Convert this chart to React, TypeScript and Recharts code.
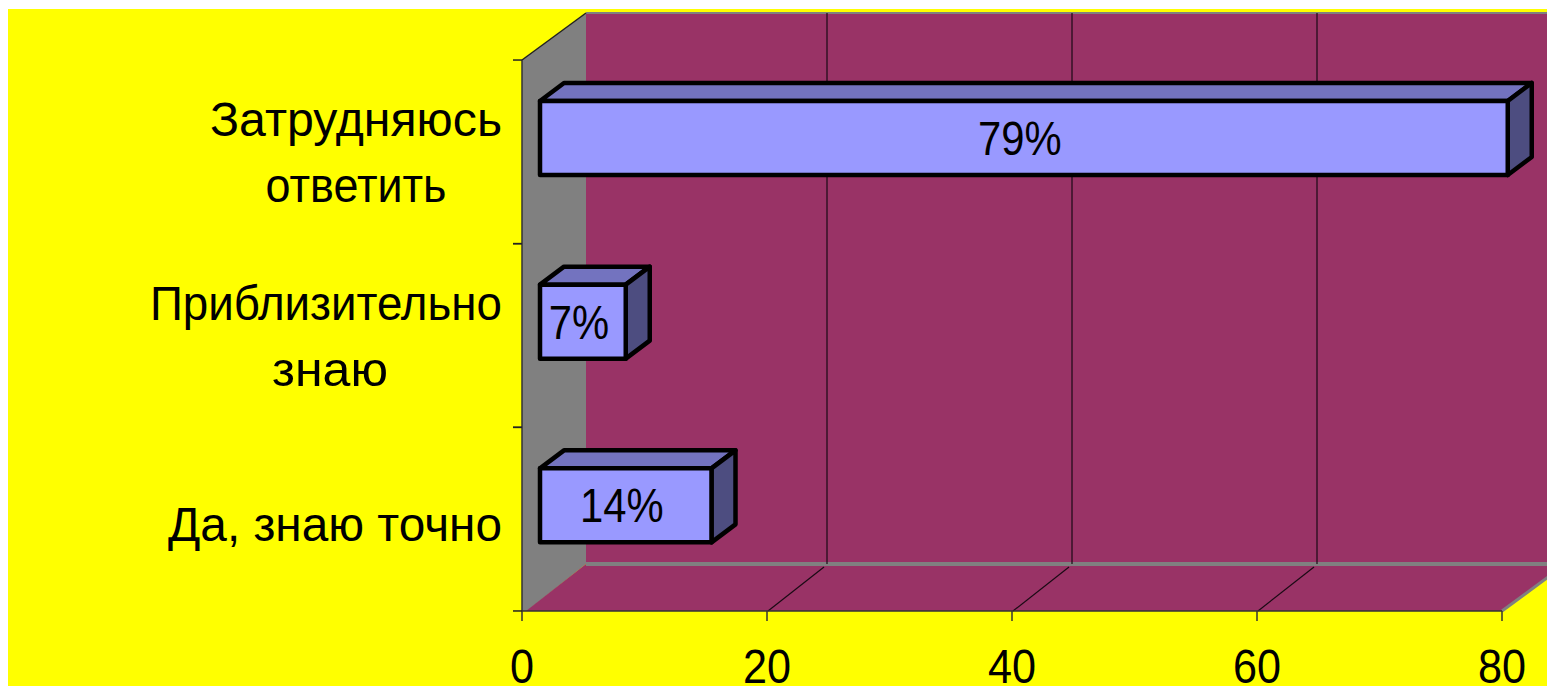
import { BarChart, Bar, XAxis, YAxis, ReferenceArea, ReferenceLine, LabelList } from "recharts";

const categories = ["Затрудняюсь ответить", "Приблизительно знаю", "Да, знаю точно"];
const values = [79, 7, 14];
const categoryLines = [["Затрудняюсь", "ответить"], ["Приблизительно", "знаю"], ["Да, знаю точно"]];
const xTicks = [0, 20, 40, 60, 80];
const gridTicks = [20, 40, 60];

const data = categories.map((name, i) => ({ name, value: values[i] }));

const FONT = "'Liberation Sans', Arial, sans-serif";
const YELLOW = "#ffff00";
const MAROON = "#993366";
const GREY = "#808080";

// how far the back wall sits from the axis plane
const WALL_DX = 64;
const WALL_DY = -47;
const GRID_DX = 60;
// bars stand a bit inside the box
const BAR_DX = 18;
const BAR_DY = -14;
const DEPTH_DX = 24;
const DEPTH_DY = -18;
const BAND_HALF = 91.8;
// measured widths and centres of the category text lines
const LINE_WIDTHS = [[292, 181], [352, 116], [334]];
const LINE_CENTERS = [[348, 348], [318, 322], [327]];

function Walls({ x, y, width, height }: any) {
  const r = x + width;
  const b = y + height;
  return (
    <g>
      <polygon points={`${x},${y} ${x + WALL_DX},${y + WALL_DY} ${x + WALL_DX},${b + WALL_DY} ${x + 5},${b} ${x},${b}`} fill={GREY} />
      <polygon points={`${x + WALL_DX},${y + WALL_DY} ${r + WALL_DX},${y + WALL_DY} ${r + WALL_DX},${b + WALL_DY} ${x + WALL_DX},${b + WALL_DY}`} fill={MAROON} />
      <polygon points={`${x + 4},${b} ${r},${b} ${r + WALL_DX},${b + WALL_DY} ${x + WALL_DX},${b + WALL_DY}`} fill={MAROON} />
      <line x1={x + WALL_DX} y1={b + WALL_DY} x2={r + WALL_DX} y2={b + WALL_DY} stroke={GREY} strokeWidth={4} />
      <line x1={r} y1={b} x2={r + WALL_DX} y2={b + WALL_DY} stroke={GREY} strokeWidth={3} />
      <line x1={x + WALL_DX} y1={y + WALL_DY} x2={r + WALL_DX} y2={y + WALL_DY} stroke={GREY} strokeWidth={2} />
      <line x1={x} y1={y} x2={x + WALL_DX} y2={y + WALL_DY} stroke="#222" strokeWidth={1.5} />
    </g>
  );
}

function GridLine({ x1, y1, y2 }: any) {
  const top = Math.min(y1, y2);
  const bottom = Math.max(y1, y2);
  return (
    <g stroke="#1a0a14" strokeWidth={1.2}>
      <line x1={x1 + GRID_DX} y1={top + WALL_DY} x2={x1 + GRID_DX} y2={bottom + WALL_DY} />
      <line x1={x1 + 1} y1={bottom} x2={x1 + GRID_DX - 3} y2={bottom + WALL_DY + 3} />
    </g>
  );
}

function Bar3D({ x, y, width, height }: any) {
  const l = x + BAR_DX;
  const t = y + BAR_DY;
  const r = l + width;
  const b = t + height;
  return (
    <g stroke="#000" strokeWidth={4.5} strokeLinejoin="round">
      <polygon points={`${l},${t} ${l + DEPTH_DX},${t + DEPTH_DY} ${r + DEPTH_DX},${t + DEPTH_DY} ${r},${t}`} fill="#7373bf" />
      <polygon points={`${r},${t} ${r + DEPTH_DX},${t + DEPTH_DY} ${r + DEPTH_DX},${b + DEPTH_DY} ${r},${b}`} fill="#4d4d80" />
      <rect x={l} y={t} width={width} height={height} fill="#9999ff" />
    </g>
  );
}

// the source text is squeezed a little sideways, so digits get a narrower scale
function ValueLabel({ x, y, width, height, value }: any) {
  const cx = x + BAR_DX + width / 2 - 4;
  const cy = y + BAR_DY + height / 2 + 17;
  return (
    <text transform={`translate(${cx},${cy}) scale(0.87,1)`} textAnchor="middle" fontFamily={FONT} fontSize={48} fill="#000">
      {value}%
    </text>
  );
}

function ValueTick({ x, y, payload }: any) {
  return (
    <text transform={`translate(${x},${y + 62}) scale(0.9,1)`} textAnchor="middle" fontFamily={FONT} fontSize={48} fill="#000">
      {payload.value}
    </text>
  );
}

function CategoryTick({ x, y, index }: any) {
  const lines = categoryLines[index];
  const first = lines.length > 1 ? -16 : 22;
  return (
    <g>
      <line x1={x - 9} y1={y - BAND_HALF} x2={x} y2={y - BAND_HALF} stroke="#222" strokeWidth={1.5} />
      <line x1={x - 9} y1={y + BAND_HALF} x2={x} y2={y + BAND_HALF} stroke="#222" strokeWidth={1.5} />
      {lines.map((line, i) => (
        <text
          key={line}
          x={LINE_CENTERS[index][i]}
          y={y + first + i * 66}
          textAnchor="middle"
          textLength={LINE_WIDTHS[index][i]}
          lengthAdjust="spacingAndGlyphs"
          fontFamily={FONT}
          fontSize={47.5}
          fill="#000"
        >
          {line}
        </text>
      ))}
    </g>
  );
}

export default function App() {
  return (
    <div style={{ position: "absolute", left: 0, top: 0, width: 1547, height: 686, overflow: "hidden", background: "#fff" }}>
      <div style={{ position: "absolute", left: 8, top: 9, width: 1539, height: 677, background: YELLOW }}>
        <BarChart
          width={1539}
          height={677}
          data={data}
          layout="vertical"
          margin={{ top: 51, right: 45, bottom: 0, left: 0 }}
          barSize={74}
        >
          <ReferenceArea x1={0} x2={80} shape={<Walls />} ifOverflow="visible" zIndex={-20} />
          {gridTicks.map((t) => (
            <ReferenceLine key={t} x={t} shape={<GridLine />} ifOverflow="visible" zIndex={-10} />
          ))}
          <XAxis
            type="number"
            domain={[0, 80]}
            ticks={xTicks}
            interval={0}
            height={75}
            tickSize={10}
            tickMargin={0}
            stroke="#333"
            strokeWidth={1.5}
            tick={<ValueTick />}
          />
          <YAxis
            type="category"
            dataKey="name"
            width={514}
            tickSize={0}
            tickMargin={0}
            interval={0}
            stroke="#333"
            strokeWidth={1.5}
            tick={<CategoryTick />}
          />
          <Bar dataKey="value" shape={<Bar3D />} isAnimationActive={false}>
            <LabelList dataKey="value" content={<ValueLabel />} />
          </Bar>
        </BarChart>
      </div>
    </div>
  );
}
